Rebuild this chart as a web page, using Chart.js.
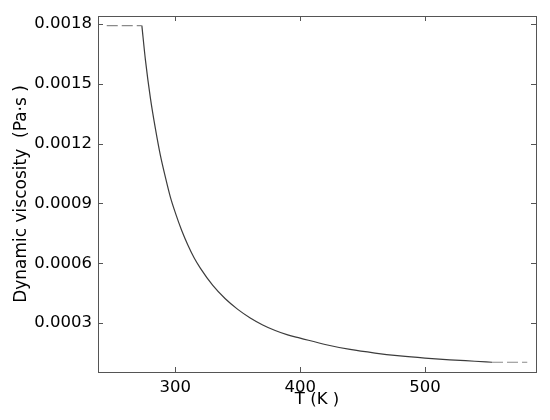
<!DOCTYPE html>
<html>
<head>
<meta charset="utf-8">
<script src="https://cdn.jsdelivr.net/npm/chart.js@4/dist/chart.umd.min.js"></script>
<style>
  html, body { margin: 0; padding: 0; background: #fff; }
  #wrap { width: 550px; height: 420px; }
</style>
</head>
<body>
<div id="wrap"><canvas id="c" width="550" height="420"></canvas></div>
<script>
// water dynamic viscosity vs temperature
var TEMP = [273.15, 276, 280, 284, 288, 292, 296, 300, 305, 310, 315, 320, 330, 340, 350,
            360, 370, 380, 390, 400, 420, 440, 460, 480, 500, 520, 540, 553.75];
var VISC = [0.001792, 0.001620, 0.001428, 0.001275, 0.001141, 0.001032, 0.000932, 0.000853,
            0.000766, 0.000692, 0.000628, 0.000576, 0.000489, 0.000422, 0.000369, 0.000326,
            0.000291, 0.000263, 0.000241, 0.000225, 0.000193, 0.000168, 0.000150, 0.000136,
            0.000125, 0.000116, 0.000109, 0.000104];
// extrapolated (dashed) ends
var LOW_T = [245, 273.15];
var LOW_V = [0.001792, 0.001792];
var HIGH_T = [553.75, 582];
var HIGH_V = [0.000104, 0.000104];

var X_TICKS = [300, 400, 500];
var Y_TICKS = [0.0003, 0.0006, 0.0009, 0.0012, 0.0015, 0.0018];

function pts(xs, ys) {
  return xs.map(function (x, i) { return { x: x, y: ys[i] }; });
}

// frame + inward ticks on all four sides (matplotlib look)
var frame = {
  id: 'frame',
  afterDraw: function (chart) {
    var ctx = chart.ctx, a = chart.chartArea;
    var xs = chart.scales.x, ys = chart.scales.y;
    var L = 5;
    ctx.save();
    ctx.strokeStyle = '#555';
    ctx.lineWidth = 1;
    ctx.strokeRect(Math.round(a.left) + 0.5, Math.round(a.top) + 0.5,
                   Math.round(a.right - a.left), Math.round(a.bottom - a.top));
    ctx.beginPath();
    X_TICKS.forEach(function (v) {
      var px = Math.round(xs.getPixelForValue(v)) + 0.5;
      ctx.moveTo(px, a.bottom); ctx.lineTo(px, a.bottom - L);
      ctx.moveTo(px, a.top); ctx.lineTo(px, a.top + L);
    });
    Y_TICKS.forEach(function (v) {
      var py = Math.round(ys.getPixelForValue(v)) + 0.5;
      ctx.moveTo(a.left, py); ctx.lineTo(a.left + L, py);
      ctx.moveTo(a.right, py); ctx.lineTo(a.right - L, py);
    });
    ctx.stroke();
    ctx.restore();
  }
};

var FONT = "'DejaVu Sans', sans-serif";

new Chart(document.getElementById('c'), {
  type: 'scatter',
  data: {
    datasets: [
      { data: pts(LOW_T, LOW_V), showLine: true, borderColor: '#8a8a8a', borderWidth: 1.2,
        borderDash: [11, 4], pointRadius: 0 },
      { data: pts(TEMP, VISC), showLine: true, borderColor: '#3c3c3c', borderWidth: 1.2,
        pointRadius: 0, cubicInterpolationMode: 'monotone' },
      { data: pts(HIGH_T, HIGH_V), showLine: true, borderColor: '#8a8a8a', borderWidth: 1.2,
        borderDash: [11, 4], pointRadius: 0 }
    ]
  },
  options: {
    responsive: false, animation: false,
    layout: { padding: { left: 0, top: 16, right: 14, bottom: 0 } },
    plugins: { legend: { display: false }, tooltip: { enabled: false } },
    scales: {
      x: {
        type: 'linear', min: 238, max: 589,
        grid: { display: false, drawTicks: false },
        border: { display: false },
        afterBuildTicks: function (s) { s.ticks = X_TICKS.map(function (v) { return { value: v }; }); },
        afterFit: function (s) { s.height = 48; },
        ticks: { color: '#000', padding: 6, font: { family: FONT, size: 16.5 } },
        title: { display: true, text: 'T (K )', color: '#000', padding: { top: 0, bottom: 10 },
                 font: { family: FONT, size: 16.5 } }
      },
      y: {
        type: 'linear', min: 0.000055, max: 0.00184,
        grid: { display: false, drawTicks: false },
        border: { display: false },
        afterBuildTicks: function (s) { s.ticks = Y_TICKS.map(function (v) { return { value: v }; }); },
        afterFit: function (s) { s.width = 98; },
        ticks: { color: '#000', padding: 6, font: { family: FONT, size: 16.5 },
                 callback: function (v) { return v.toFixed(4); } },
        title: { display: true, text: 'Dynamic viscosity  (Pa·s )', color: '#000',
                 padding: { top: 11, bottom: 0 }, font: { family: FONT, size: 17 } }
      }
    }
  },
  plugins: [frame]
});
</script>
</body>
</html>
